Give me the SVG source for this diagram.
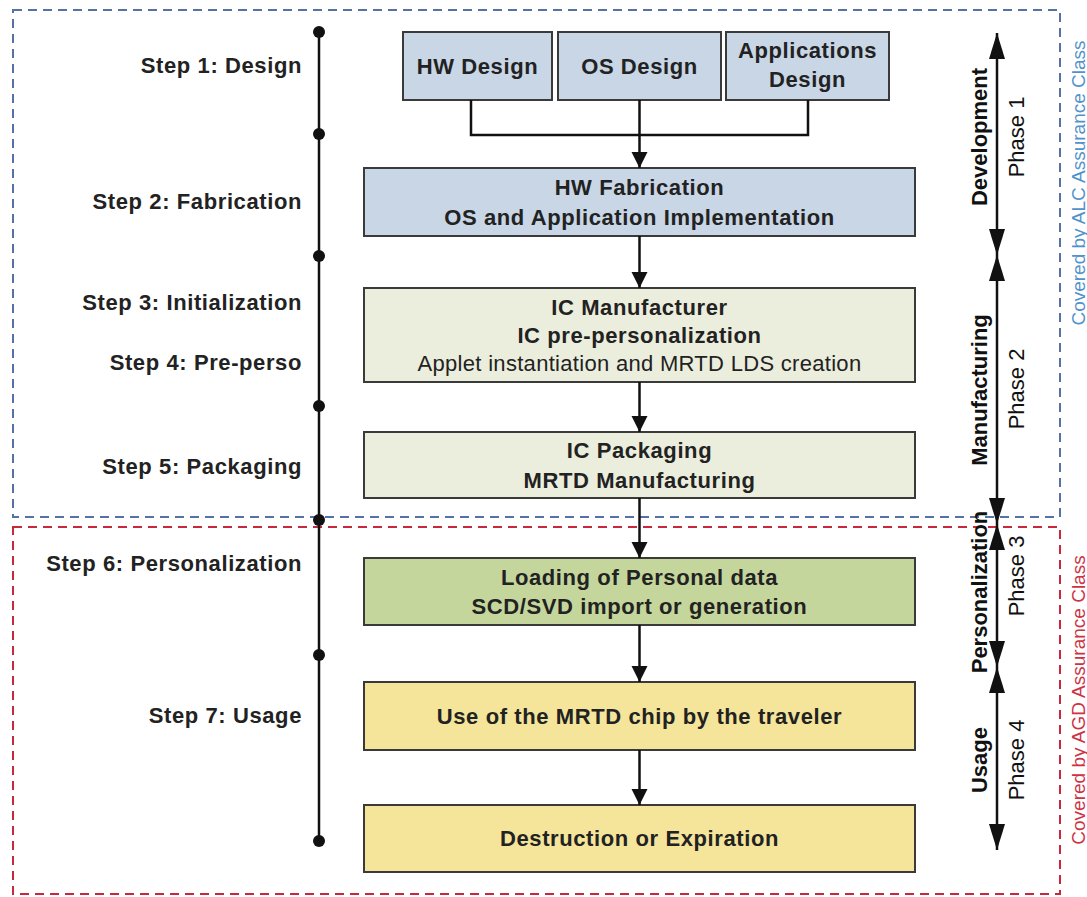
<svg xmlns="http://www.w3.org/2000/svg" width="1087" height="897" viewBox="0 0 1087 897">
<defs>
<style>
.t{font-family:"Liberation Sans",Arial,sans-serif;font-size:22px;font-weight:bold;fill:#222;letter-spacing:0.6px}
.n{font-weight:normal}
.box{stroke:#3a3a3a;stroke-width:2}
.blue{fill:#c8d6e6}
.beige{fill:#eceedd}
.green{fill:#c4d69c}
.yellow{fill:#f4e59b}
.ln{stroke:#111;stroke-width:2.5;fill:none}
.ph{font-family:"Liberation Sans",Arial,sans-serif;font-size:22px;fill:#111;text-anchor:middle}
.cov{font-family:"Liberation Sans",Arial,sans-serif;font-size:19px;text-anchor:middle}
</style>
<marker id="ah" viewBox="0 0 16 18" refX="16" refY="9" markerWidth="16" markerHeight="18" markerUnits="userSpaceOnUse" orient="auto">
<path d="M0,1 L16,9 L0,17 Z" fill="#111"/>
</marker>
<marker id="ph" viewBox="0 0 26 16" refX="26" refY="8" markerWidth="26" markerHeight="16" markerUnits="userSpaceOnUse" orient="auto-start-reverse">
<path d="M0,0 L26,8 L0,16 Z" fill="#111"/>
</marker>
</defs>
<rect width="1087" height="897" fill="#fff"/>

<g id="zones">
<rect x="13" y="10" width="1047" height="507" fill="none" stroke="#5572a6" stroke-width="2" stroke-dasharray="9,6"/>
<rect x="13" y="527" width="1047" height="367" fill="none" stroke="#c8283c" stroke-width="2" stroke-dasharray="9,6"/>
<text class="cov" fill="#4f93cc" transform="translate(1085,183) rotate(-90)">Covered by ALC Assurance Class</text>
<text class="cov" fill="#cc3344" transform="translate(1085,700) rotate(-90)">Covered by AGD Assurance Class</text>
</g>

<g id="timeline">
<line x1="319" y1="32" x2="319" y2="841" stroke="#111" stroke-width="2.5"/>
<g fill="#111">
<circle cx="319" cy="32" r="6"/><circle cx="319" cy="134" r="6"/><circle cx="319" cy="256" r="6"/><circle cx="319" cy="406" r="6"/><circle cx="319" cy="520" r="6"/><circle cx="319" cy="655" r="6"/><circle cx="319" cy="841" r="6"/>
</g>
<g class="t" text-anchor="end">
<text x="302" y="73">Step 1: Design</text>
<text x="302" y="209">Step 2: Fabrication</text>
<text x="302" y="310">Step 3: Initialization</text>
<text x="302" y="370">Step 4: Pre-perso</text>
<text x="302" y="474">Step 5: Packaging</text>
<text x="302" y="571">Step 6: Personalization</text>
<text x="302" y="723">Step 7: Usage</text>
</g>
</g>

<g id="hw-design"><rect class="box blue" x="403" y="32" width="149" height="68"/><text class="t" x="477.5" y="74" text-anchor="middle">HW Design</text></g>
<g id="os-design"><rect class="box blue" x="558" y="32" width="163" height="68"/><text class="t" x="639.5" y="74" text-anchor="middle">OS Design</text></g>
<g id="app-design"><rect class="box blue" x="726" y="32" width="163" height="68"/><text class="t" x="807.5" y="58" text-anchor="middle">Applications</text><text class="t" x="807.5" y="87" text-anchor="middle">Design</text></g>

<g id="hw-fab"><rect class="box blue" x="364" y="168" width="551" height="68"/><text class="t" x="639.5" y="195" text-anchor="middle">HW Fabrication</text><text class="t" x="639.5" y="225" text-anchor="middle">OS and Application Implementation</text></g>

<g id="ic-manuf"><rect class="box beige" x="364" y="288" width="551" height="94"/><text class="t" x="639.5" y="315" text-anchor="middle">IC Manufacturer</text><text class="t" x="639.5" y="343" text-anchor="middle">IC pre-personalization</text><text class="t n" x="639.5" y="371" text-anchor="middle" style="letter-spacing:0.3px">Applet instantiation and MRTD LDS creation</text></g>

<g id="ic-pack"><rect class="box beige" x="364" y="432" width="551" height="66"/><text class="t" x="639.5" y="458" text-anchor="middle">IC Packaging</text><text class="t" x="639.5" y="488" text-anchor="middle">MRTD Manufacturing</text></g>

<g id="loading"><rect class="box green" x="364" y="558" width="551" height="67"/><text class="t" x="639.5" y="585" text-anchor="middle">Loading of Personal data</text><text class="t" x="639.5" y="614" text-anchor="middle">SCD/SVD import or generation</text></g>

<g id="use"><rect class="box yellow" x="364" y="682" width="551" height="68"/><text class="t" x="639.5" y="724" text-anchor="middle">Use of the MRTD chip by the traveler</text></g>

<g id="destruction"><rect class="box yellow" x="364" y="805" width="551" height="67"/><text class="t" x="639.5" y="846" text-anchor="middle">Destruction or Expiration</text></g>

<g id="connectors">
<polyline class="ln" points="471,100 471,135 808,135 808,100"/>
<line class="ln" x1="639.5" y1="100" x2="639.5" y2="168" marker-end="url(#ah)"/>
<line class="ln" x1="639.5" y1="236" x2="639.5" y2="288" marker-end="url(#ah)"/>
<line class="ln" x1="639.5" y1="382" x2="639.5" y2="432" marker-end="url(#ah)"/>
<line class="ln" x1="639.5" y1="498" x2="639.5" y2="558" marker-end="url(#ah)"/>
<line class="ln" x1="639.5" y1="625" x2="639.5" y2="682" marker-end="url(#ah)"/>
<line class="ln" x1="639.5" y1="750" x2="639.5" y2="805" marker-end="url(#ah)"/>
</g>

<g id="phases">
<line class="ln" x1="997" y1="33" x2="997" y2="255" marker-start="url(#ph)" marker-end="url(#ph)"/>
<line class="ln" x1="997" y1="255" x2="997" y2="524" marker-start="url(#ph)" marker-end="url(#ph)"/>
<line class="ln" x1="997" y1="524" x2="997" y2="667" marker-start="url(#ph)" marker-end="url(#ph)"/>
<line class="ln" x1="997" y1="667" x2="997" y2="850" marker-start="url(#ph)" marker-end="url(#ph)"/>
<text class="ph" font-weight="bold" transform="translate(987,137) rotate(-90)">Development</text>
<text class="ph" transform="translate(1024,137) rotate(-90)">Phase 1</text>
<text class="ph" font-weight="bold" transform="translate(987,390) rotate(-90)">Manufacturing</text>
<text class="ph" transform="translate(1024,389) rotate(-90)">Phase 2</text>
<text class="ph" font-weight="bold" transform="translate(987,592) rotate(-90)">Personalization</text>
<text class="ph" transform="translate(1024,576) rotate(-90)">Phase 3</text>
<text class="ph" font-weight="bold" transform="translate(987,760) rotate(-90)">Usage</text>
<text class="ph" transform="translate(1024,760) rotate(-90)">Phase 4</text>
</g>
</svg>
